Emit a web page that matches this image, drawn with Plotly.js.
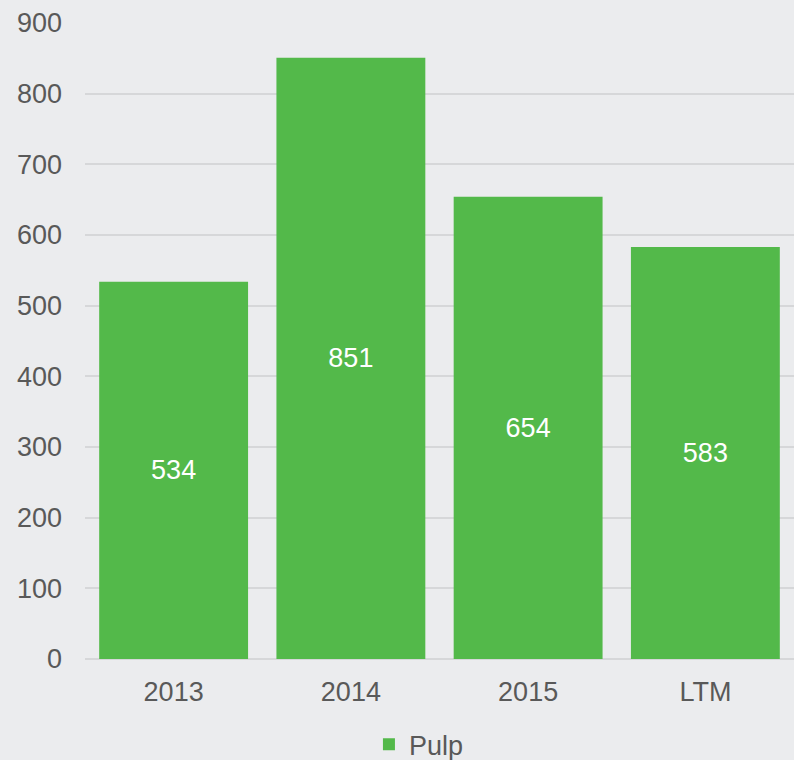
<!DOCTYPE html>
<html><head><meta charset="utf-8">
<script src="https://cdn.plot.ly/plotly-3.0.1.min.js"></script>
<style>html,body{margin:0;padding:0;background:#EBECEE;overflow:hidden}</style>
</head><body>
<div id="chart" style="width:794px;height:760px"></div>
<script>
const categories = ["2013", "2014", "2015", "LTM"];
const pulp = [534, 851, 654, 583];
const yTicks = [0, 100, 200, 300, 400, 500, 600, 700, 800, 900];

const font = "Liberation Sans, Arial, sans-serif";
Plotly.newPlot("chart", [{
  type: "bar",
  name: "Pulp",
  x: categories,
  y: pulp,
  text: pulp.map(String),
  textposition: "inside",
  insidetextanchor: "middle",
  textangle: 0,
  textfont: {family: font, size: 27, color: "#FFFFFF"},
  marker: {color: "#53B94A"},
  hoverinfo: "none"
}], {
  width: 794, height: 760,
  paper_bgcolor: "#EBECEE", plot_bgcolor: "#EBECEE",
  margin: {l: 85, r: 0, t: 23, b: 101, autoexpand: false},
  bargap: 0.16,
  font: {family: font, size: 27, color: "#595959"},
  xaxis: {
    type: "category", showgrid: false, zeroline: false, automargin: false,
    showline: false, ticks: "", ticklabelstandoff: 14,
    tickfont: {family: font, size: 27, color: "#595959"}
  },
  yaxis: {
    range: [0, 900], tickvals: yTicks, ticktext: yTicks.map(String), automargin: false,
    showgrid: true, gridcolor: "#D6D7D9", gridwidth: 2,
    zeroline: true, zerolinecolor: "#D6D7D9", zerolinewidth: 2,
    showline: false, ticks: "", ticklabelstandoff: 22,
    tickfont: {family: font, size: 27, color: "#595959"}
  },
  showlegend: true,
  legend: {
    orientation: "h", x: 0.471, xanchor: "center", xref: "paper",
    yref: "container", y: 0.02, yanchor: "middle",
    font: {family: font, size: 27, color: "#595959"},
    itemwidth: 30, bgcolor: "rgba(0,0,0,0)"
  }
}, {displayModeBar: false, staticPlot: true});
</script>
</body></html>
